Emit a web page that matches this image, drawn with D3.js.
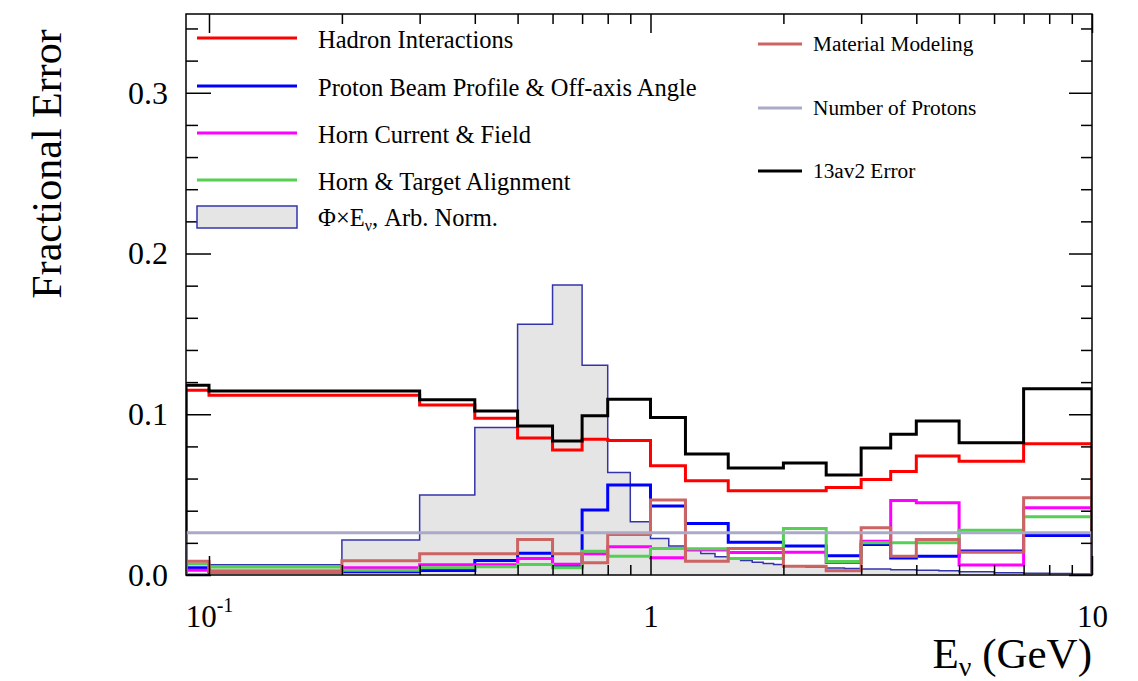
<!DOCTYPE html>
<html>
<head>
<meta charset="utf-8">
<script src="https://cdn.jsdelivr.net/npm/d3@7"></script>
<style>
  body { margin: 0; background: #fff; }
  svg text { font-family: "Liberation Serif", "Times New Roman", serif; fill: #000; }
</style>
</head>
<body>
<svg id="chart" width="1138" height="681"></svg>
<script>
// bin edges of the error histograms (GeV)
const binEdges = [0.0887, 0.1, 0.2, 0.3, 0.4, 0.5, 0.6, 0.7, 0.8, 1.0, 1.2, 1.5, 2.0, 2.5, 3.0, 3.5, 4.0, 5.0, 7.0, 10.0];

const hadronErr   = [0.115, 0.1118, 0.1118, 0.1058, 0.0975, 0.0852, 0.0778, 0.0844, 0.0837, 0.068, 0.0587, 0.0524, 0.0524, 0.0544, 0.0594, 0.0644, 0.0741, 0.0707, 0.0817];
const beamErr     = [0.0045, 0.0018, 0.002, 0.0028, 0.009, 0.0136, 0.0055, 0.0404, 0.056, 0.0429, 0.0321, 0.0204, 0.018, 0.0119, 0.019, 0.0105, 0.0117, 0.015, 0.0246];
const hornErr     = [0.003, 0.0025, 0.0045, 0.0063, 0.0063, 0.0103, 0.0067, 0.0132, 0.0176, 0.0107, 0.0155, 0.014, 0.0142, 0.0078, 0.021, 0.0464, 0.045, 0.0062, 0.0419];
const alignErr    = [0.0068, 0.005, 0.003, 0.0045, 0.0051, 0.0065, 0.0045, 0.0148, 0.0117, 0.0165, 0.0163, 0.0103, 0.029, 0.0084, 0.02, 0.02, 0.02, 0.0279, 0.0363];
const materialErr = [0.0085, 0.0022, 0.0088, 0.0132, 0.0132, 0.0221, 0.0132, 0.0076, 0.0252, 0.0466, 0.0086, 0.0165, 0.0055, 0.0026, 0.0294, 0.0117, 0.0221, 0.0142, 0.048];
const protonsErr  = [0.0263, 0.0263, 0.0263, 0.0263, 0.0263, 0.0263, 0.0263, 0.0263, 0.0263, 0.0263, 0.0263, 0.0263, 0.0263, 0.0263, 0.0263, 0.0263, 0.0263, 0.0263, 0.0263];
const totalErr    = [0.118, 0.1145, 0.1145, 0.109, 0.102, 0.0927, 0.0834, 0.099, 0.1093, 0.098, 0.0752, 0.0665, 0.0696, 0.0622, 0.079, 0.0876, 0.0958, 0.0822, 0.1158];

// flux x E, arbitrary normalisation, finer binning
const fluxEdges  = [0.0887, 0.1, 0.2, 0.3, 0.4, 0.5, 0.6, 0.7, 0.8, 0.9, 1.0, 1.1, 1.2, 1.3, 1.4, 1.5, 1.6, 1.7, 1.8, 1.9, 2.0, 2.25, 2.5, 2.75, 3.0, 3.5, 4.0, 4.5, 5.0, 6.0, 7.0, 8.0, 9.0, 10.0];
const fluxValues = [0.0004, 0.0064, 0.0217, 0.0497, 0.0917, 0.156, 0.1804, 0.1305, 0.0637, 0.0331, 0.0227, 0.018, 0.0155, 0.0134, 0.0113, 0.0101, 0.009, 0.008, 0.0072, 0.0065, 0.0057, 0.005, 0.0044, 0.004, 0.0037, 0.0033, 0.003, 0.0026, 0.002, 0.0014, 0.0011, 0.0009, 0.0007];

const yMajorTicks = [0.0, 0.1, 0.2, 0.3];
const yMinorTicks = [0.02, 0.04, 0.06, 0.08, 0.12, 0.14, 0.16, 0.18, 0.22, 0.24, 0.26, 0.28, 0.32, 0.34];
const xMajorTicks = [0.1, 1, 10];
const xMinorTicks = [0.2, 0.3, 0.4, 0.5, 0.6, 0.7, 0.8, 0.9, 2, 3, 4, 5, 6, 7, 8, 9];

const series = [
    { name: "Hadron Interactions", values: hadronErr, color: "#ff0000" },
    { name: "Proton Beam Profile & Off-axis Angle", values: beamErr, color: "#0000ff" },
    { name: "Horn Current & Field", values: hornErr, color: "#ff00ff" },
    { name: "Horn & Target Alignment", values: alignErr, color: "#55d055" },
    { name: "Material Modeling", values: materialErr, color: "#cc6464" },
    { name: "13av2 Error", values: totalErr, color: "#000000" },
    { name: "Number of Protons", values: protonsErr, color: "#aaaac8" }
];

const margin = { top: 14, right: 46, bottom: 106, left: 186 };
const width = 1138 - margin.left - margin.right;
const height = 681 - margin.top - margin.bottom;

const svg = d3.select("#chart");
const g = svg.append("g").attr("transform", `translate(${margin.left},${margin.top})`);

const x = d3.scaleLog().domain([0.0887, 10]).range([0, width]);
const y = d3.scaleLinear().domain([0, 0.349]).range([height, 0]);

g.append("clipPath").attr("id", "plot-clip")
    .append("rect").attr("width", width).attr("height", height);

const plot = g.append("g").attr("clip-path", "url(#plot-clip)");

// turn bins into step points
function stepPoints(edges, vals) {
    let pts = [[edges[0], 0]];
    vals.forEach((v, i) => pts.push([edges[i], v]));
    pts.push([edges[edges.length - 1], vals[vals.length - 1]]);
    pts.push([edges[edges.length - 1], 0]);
    return pts;
}

let fluxPts = fluxValues.map((v, i) => [fluxEdges[i], v]);
fluxPts.push([fluxEdges[fluxEdges.length - 1], fluxValues[fluxValues.length - 1]]);

plot.append("path")
    .datum(fluxPts)
    .attr("fill", "#e5e5e5")
    .attr("d", d3.area().curve(d3.curveStepAfter)
        .x(d => x(d[0])).y0(y(0)).y1(d => y(d[1])));

const stepLine = d3.line().curve(d3.curveStepAfter)
    .x(d => x(d[0])).y(d => y(d[1]));

plot.append("path")
    .datum(stepPoints(fluxEdges, fluxValues))
    .attr("fill", "none")
    .attr("stroke", "#3434aa")
    .attr("stroke-width", 1.5)
    .attr("d", stepLine);

plot.selectAll(".err")
    .data(series)
    .enter()
    .append("path")
    .attr("class", "err")
    .attr("fill", "none")
    .attr("stroke", d => d.color)
    .attr("stroke-width", 3)
    .attr("d", d => stepLine(stepPoints(binEdges, d.values)));

// frame
g.append("rect")
    .attr("width", width).attr("height", height)
    .attr("fill", "none").attr("stroke", "#000").attr("stroke-width", 1.5);

function styleAxis(sel) {
    sel.select(".domain").remove();
    sel.selectAll(".tick line").attr("stroke", "#000").attr("stroke-width", 1.5);
}

// y axes, ticks inside the frame on both sides
g.append("g")
    .call(d3.axisLeft(y).tickValues(yMajorTicks).tickSize(-25).tickPadding(18).tickFormat(d3.format(".1f")))
    .call(styleAxis)
    .selectAll("text").attr("font-size", 32).attr("font-family", "Liberation Serif");
g.append("g")
    .call(d3.axisLeft(y).tickValues(yMinorTicks).tickSize(-12).tickFormat(""))
    .call(styleAxis);
g.append("g").attr("transform", `translate(${width},0)`)
    .call(d3.axisRight(y).tickValues(yMajorTicks).tickSize(-23).tickFormat(""))
    .call(styleAxis);
g.append("g").attr("transform", `translate(${width},0)`)
    .call(d3.axisRight(y).tickValues(yMinorTicks).tickSize(-11).tickFormat(""))
    .call(styleAxis);

// x axes
const xAxisBottom = g.append("g").attr("transform", `translate(0,${height})`)
    .call(d3.axisBottom(x).tickValues(xMajorTicks).tickSize(-19).tickPadding(30).tickFormat(d => d === 0.1 ? "" : String(d)))
    .call(styleAxis);
xAxisBottom.selectAll("text").attr("font-size", 31).attr("font-family", "Liberation Serif");
xAxisBottom.selectAll(".tick").filter(d => d === 0.1).select("text")
    .call(t => {
        t.append("tspan").text("10");
        t.append("tspan").attr("font-size", 20).attr("dy", "-0.75em").text("-1");
    });
g.append("g").attr("transform", `translate(0,${height})`)
    .call(d3.axisBottom(x).tickValues(xMinorTicks).tickSize(-10).tickFormat(""))
    .call(styleAxis);
g.append("g")
    .call(d3.axisTop(x).tickValues(xMajorTicks).tickSize(-19).tickFormat(""))
    .call(styleAxis);
g.append("g")
    .call(d3.axisTop(x).tickValues(xMinorTicks).tickSize(-10).tickFormat(""))
    .call(styleAxis);

// axis titles
svg.append("text")
    .attr("transform", `translate(61,164) rotate(-90)`)
    .attr("text-anchor", "middle")
    .attr("font-size", 42)
    .text("Fractional Error");

const xTitle = svg.append("text")
    .attr("x", margin.left + width)
    .attr("y", 668)
    .attr("text-anchor", "end")
    .attr("font-size", 43);
xTitle.append("tspan").text("E");
xTitle.append("tspan").attr("font-size", 28).attr("dy", 8).text("ν");
xTitle.append("tspan").attr("dy", -8).text(" (GeV)");

// legend, left column
const legend1 = [series[0], series[1], series[2], series[3]];
const leg1 = svg.append("g");
const leg1Rows = [38, 86, 133, 180];
legend1.forEach((s, i) => {
    leg1.append("line")
        .attr("x1", 197).attr("x2", 297)
        .attr("y1", leg1Rows[i]).attr("y2", leg1Rows[i])
        .attr("stroke", s.color).attr("stroke-width", 3);
    leg1.append("text")
        .attr("x", 318).attr("y", leg1Rows[i] + 1)
        .attr("dy", "0.35em")
        .attr("font-size", 24.5)
        .text(s.name);
});
leg1.append("rect")
    .attr("x", 197).attr("y", 206).attr("width", 100).attr("height", 22)
    .attr("fill", "#e5e5e5").attr("stroke", "#3434aa").attr("stroke-width", 1.5);
const fluxLabel = leg1.append("text")
    .attr("x", 318).attr("y", 217).attr("dy", "0.35em").attr("font-size", 24.5);
fluxLabel.append("tspan").text("Φ×E");
fluxLabel.append("tspan").attr("font-size", 16).attr("dy", 5).text("ν");
fluxLabel.append("tspan").attr("dy", -5).text(", Arb. Norm.");

// legend, right column
const legend2 = [series[4], series[6], series[5]];
const leg2Rows = [44, 108, 171];
const leg2 = svg.append("g");
legend2.forEach((s, i) => {
    leg2.append("line")
        .attr("x1", 758).attr("x2", 802)
        .attr("y1", leg2Rows[i]).attr("y2", leg2Rows[i])
        .attr("stroke", s.color).attr("stroke-width", 3);
    leg2.append("text")
        .attr("x", 813).attr("y", leg2Rows[i])
        .attr("dy", "0.35em")
        .attr("font-size", 21.3)
        .text(s.name);
});
</script>
</body>
</html>
